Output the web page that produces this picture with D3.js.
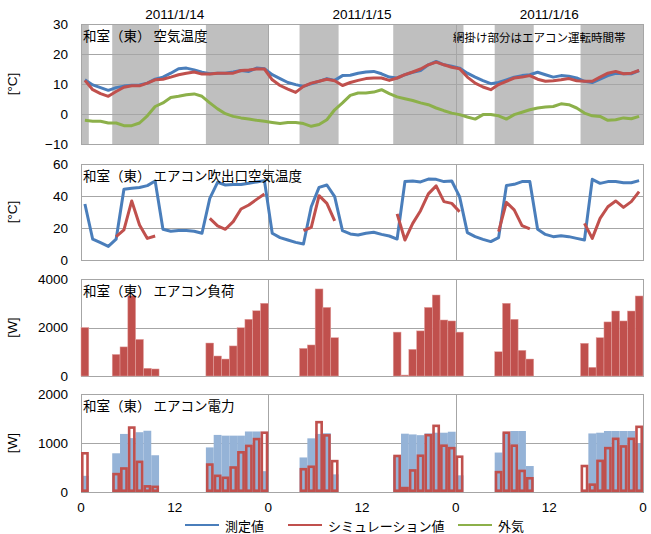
<!DOCTYPE html>
<html>
<head>
<meta charset="utf-8">
<script src="https://cdn.jsdelivr.net/npm/d3@7"></script>
<style>
  body { margin: 0; background: #fff; }
  text { font-family: "Liberation Sans", "Noto Sans CJK JP", sans-serif; fill: #000; }
  .jp { font-family: "Noto Sans CJK JP", sans-serif; }
</style>
</head>
<body>
<script>
// hourly data for 3 days (2011/1/14 - 2011/1/16), index = hour 0..71

const dayLabels = ['2011/1/14', '2011/1/15', '2011/1/16'];
const xTickLabels = ['0', '12', '0', '12', '0', '12', '0'];
const seriesNames = ['測定値', 'シミュレーション値', '外気'];

// air-conditioner running hours (shaded in the top panel) as [start, end]
const acPeriods = [[0, 1], [4, 10], [16, 24], [28, 33], [40, 49], [53, 58], [64, 72]];

// room air temperature [°C]
const airMeasured = [11.4, 9.7, 8.8, 7.9, 8.8, 9.3, 9.6, 9.7, 10.3, 11.6, 12.3, 13.6, 15.1, 15.3, 14.7, 13.9,
  13.4, 13.6, 13.6, 14.0, 14.5, 14.2, 15.3, 15.1, 13.1, 11.8, 10.5, 9.8, 9.2, 10.1, 10.9, 11.8,
  11.2, 12.8, 12.9, 13.6, 14.0, 14.2, 13.4, 12.3, 12.0, 13.1, 13.9, 14.5, 16.4, 17.5, 16.4, 15.9,
  15.3, 13.6, 12.3, 11.1, 10.1, 10.5, 11.4, 12.3, 12.8, 13.1, 13.9, 13.1, 12.3, 12.8, 12.6, 12.0,
  10.9, 10.5, 11.6, 12.8, 13.6, 13.4, 13.4, 14.5];
const airSim = [11.2, 8.1, 6.8, 5.9, 7.5, 8.9, 9.4, 9.4, 10.3, 11.4, 11.6, 12.3, 13.1, 13.6, 14.0, 13.3,
  13.3, 13.6, 13.6, 13.6, 14.5, 14.7, 15.0, 15.0, 11.4, 9.5, 8.3, 7.2, 9.2, 10.3, 10.9, 11.6,
  11.1, 9.5, 10.5, 11.2, 11.8, 12.0, 12.0, 11.2, 12.0, 13.1, 14.0, 15.0, 16.4, 17.3, 16.4, 15.6,
  15.1, 12.3, 10.3, 9.0, 8.1, 9.8, 10.9, 12.0, 12.3, 12.8, 11.6, 10.9, 11.1, 11.4, 11.8, 11.1,
  10.9, 10.9, 12.3, 13.6, 14.2, 13.4, 13.6, 14.5];
const outdoorTemp = [-2.1, -2.4, -2.4, -3.0, -3.0, -3.9, -3.9, -3.0, -0.6, 2.5, 3.7, 5.5, 5.9, 6.4, 6.7, 5.9,
  3.7, 1.7, 0.1, -0.8, -1.3, -1.7, -2.1, -2.4, -2.8, -3.2, -2.8, -2.8, -3.2, -4.1, -3.5, -1.9,
  1.4, 3.7, 6.2, 7.0, 7.0, 7.3, 8.1, 6.8, 5.7, 5.1, 4.5, 3.7, 3.1, 2.0, 1.1, 0.3,
  -0.2, -1.0, -1.7, -0.2, -0.2, -0.6, -1.7, -0.2, 0.6, 1.4, 2.0, 2.3, 2.5, 3.4, 3.1, 2.0,
  0.3, -0.6, -0.8, -2.1, -1.9, -1.3, -1.6, -0.8];

// air-conditioner outlet air temperature [°C]
const outletMeasured = [35, 13, 10.8, 8.5, 13, 44.2, 44.8, 45.3, 46.5, 49.4, 19.2, 18, 18.5, 18.5, 18, 16.7,
  38.5, 48.5, 46.9, 47.2, 47.2, 48, 48.8, 49.6, 16.7, 14, 12.5, 11, 10, 33.3, 45.4, 46.9,
  39.6, 18.3, 16.3, 15.6, 16.7, 17.3, 16, 15, 13.1, 49, 49.4, 48.8, 50.6, 50.4, 49, 49.4,
  39.6, 17.1, 14.6, 12.9, 11.5, 14, 46.5, 47.3, 49, 49, 19.2, 16, 14.6, 15.2, 14.6, 13.5,
  12.5, 50.4, 47.9, 49, 49, 48.3, 48.3, 49.6];
const outletSim = [null, null, null, null, 14.6, 18.8, 36.9, 21.9, 13.5, 15, null, null, null, null, null, null,
  26, 21.3, 19.2, 24, 31.9, 34.4, 37.9, 41.3, null, null, null, null, 18.3, 20.4, 40.2, 35.4,
  24.4, null, null, null, null, null, null, null, 28.8, 12.5, 22.9, 30.8, 41.3, 46.3, 36.5, 35.4,
  30.2, null, null, null, null, 17.7, 36, 31.3, 21.5, 19.4, null, null, null, null, null, null,
  22.9, 13.5, 26, 33.3, 36.9, 32.9, 36.5, 42.7];

// air-conditioner load, simulation [W]
const loadSim = [2000, 0, 0, 0, 890, 1200, 3310, 1510, 320, 290, 0, 0, 0, 0, 0, 0,
  1360, 825, 700, 1240, 1990, 2340, 2690, 3000, 0, 0, 0, 0, 1140, 1280, 3590, 2830,
  1580, 0, 0, 0, 0, 0, 0, 0, 1810, 40, 1100, 1860, 2830, 3340, 2310, 2270,
  1810, 0, 0, 0, 0, 1000, 3000, 2340, 1060, 700, 0, 0, 0, 0, 0, 0,
  1350, 360, 1580, 2230, 2680, 2270, 2680, 3300];

// air-conditioner power [W]
const powerMeasured = [330, 0, 0, 0, 790, 1185, 1100, 1220, 1250, 750, 0, 0, 0, 0, 0, 0,
  910, 1165, 1150, 1150, 1150, 1235, 1235, 425, 0, 0, 0, 0, 705, 1095, 1185, 1200,
  360, 0, 0, 0, 0, 0, 0, 0, 720, 1190, 1175, 1160, 1195, 1210, 1210, 1230,
  340, 0, 0, 0, 0, 805, 1210, 1245, 1245, 530, 0, 0, 0, 0, 0, 0,
  0, 1195, 1210, 1245, 1245, 1245, 1245, 1000];
const powerSim = [790, null, null, null, 365, 480, 1315, 615, 115, 105, null, null, null, null, null, null,
  560, 330, 290, 500, 810, 940, 1080, 1210, null, null, null, null, 465, 515, 1425, 1155,
  630, null, null, null, null, null, null, null, 735, 80, 440, 740, 1160, 1350, 945, 895,
  720, null, null, null, null, 405, 1210, 945, 430, 280, null, null, null, null, null, null,
  530, 150, 635, 895, 1085, 930, 1085, 1330];

const colBlue = '#4a7ebb';
const colRed = '#c0504d';
const colGreen = '#8cb04a';
const colBarBlue = '#95b3d7';
const colShade = '#bfbfbf';
const colGrid = '#a6a6a6';

const width = 651, height = 534;
const svg = d3.select('body').append('svg')
  .attr('width', width)
  .attr('height', height);

// shared time axis: 72 hours across the plot width
const x = d3.scaleLinear().domain([0, 72]).range([81, 643]);
const hours = d3.range(72);

// one panel = plot box, gridlines, tick labels, unit label and title
function makePanel(top, bottom, domain, ticks, unit, title) {
  const y = d3.scaleLinear().domain(domain).range([bottom, top]);
  const g = svg.append('g');
  const back = g.append('g');   // shading goes here
  const grid = g.append('g');
  const marks = g.append('g');

  grid.selectAll('line.h')
    .data(ticks)
    .enter().append('line')
    .attr('x1', x(0)).attr('x2', x(72))
    .attr('y1', d => Math.round(y(d)) + 0.5).attr('y2', d => Math.round(y(d)) + 0.5)
    .style('stroke', colGrid);

  // day boundaries
  grid.selectAll('line.v')
    .data([24, 48])
    .enter().append('line')
    .attr('x1', d => Math.round(x(d)) + 0.5).attr('x2', d => Math.round(x(d)) + 0.5)
    .attr('y1', top).attr('y2', bottom)
    .style('stroke', colGrid);

  grid.append('rect')
    .attr('x', x(0) + 0.5).attr('y', top + 0.5)
    .attr('width', x(72) - x(0)).attr('height', bottom - top)
    .style('fill', 'none').style('stroke', colGrid);

  // y tick labels (no thousands separator)
  const axis = d3.axisLeft(y).tickValues(ticks).tickSize(0).tickPadding(13).tickFormat(d3.format('d'));
  const ax = g.append('g').attr('transform', `translate(${x(0)},0)`).call(axis);
  ax.select('.domain').remove();
  ax.selectAll('text').style('font-size', '13.5px').style('font-family', '"Liberation Sans", sans-serif');

  g.append('text')
    .attr('transform', `translate(17,${(top + bottom) / 2}) rotate(-90)`)
    .attr('text-anchor', 'middle')
    .style('font-size', '13.5px')
    .text(unit);

  g.append('text')
    .attr('class', 'jp')
    .attr('x', 83).attr('y', top + 17)
    .style('font-size', '13.5px')
    .text(title);

  return { y, back, marks };
}

const p1 = makePanel(24, 144, [-10, 30], [-10, 0, 10, 20, 30], '[°C]', '和室（東） 空気温度');
const p2 = makePanel(164, 260, [0, 60], [0, 20, 40, 60], '[°C]', '和室（東） エアコン吹出口空気温度');
const p3 = makePanel(279, 376, [0, 4000], [0, 2000, 4000], '[W]', '和室（東） エアコン負荷');
const p4 = makePanel(394, 492, [0, 2000], [0, 1000, 2000], '[W]', '和室（東） エアコン電力');

// shade the running hours in the top panel
p1.back.selectAll('rect')
  .data(acPeriods)
  .enter().append('rect')
  .attr('x', d => x(d[0]))
  .attr('width', d => x(d[1]) - x(d[0]))
  .attr('y', p1.y(30))
  .attr('height', p1.y(-10) - p1.y(30))
  .style('fill', colShade);

p1.back.append('text')
  .attr('class', 'jp')
  .attr('x', 453).attr('y', 42)
  .style('font-size', '11.5px')
  .text('網掛け部分はエアコン運転時間帯');

// lines are drawn at the middle of each hour
function drawLine(panel, values, color) {
  const line = d3.line()
    .defined(d => values[d] != null)
    .x(d => x(d + 0.5))
    .y(d => panel.y(values[d]));
  panel.marks.append('path')
    .datum(hours)
    .attr('d', line)
    .style('fill', 'none')
    .style('stroke', color)
    .style('stroke-width', 3)
    .style('stroke-linejoin', 'round');
}

drawLine(p1, outdoorTemp, colGreen);
drawLine(p1, airMeasured, colBlue);
drawLine(p1, airSim, colRed);
drawLine(p2, outletMeasured, colBlue);
drawLine(p2, outletSim, colRed);

// load bars
p3.marks.selectAll('rect')
  .data(hours.filter(h => loadSim[h] > 0))
  .enter().append('rect')
  .attr('x', h => x(h))
  .attr('width', h => x(h + 1) - x(h))
  .attr('y', h => p3.y(loadSim[h]))
  .attr('height', h => p3.y(0) - p3.y(loadSim[h]))
  .style('fill', colRed)
  .style('stroke', '#e3a3a1')
  .style('stroke-width', 0.5);

// power: measured filled, simulation as outlined bars on top
p4.marks.selectAll('rect.meas')
  .data(hours.filter(h => powerMeasured[h] > 0))
  .enter().append('rect')
  .attr('x', h => x(h))
  .attr('width', h => x(h + 1) - x(h))
  .attr('y', h => p4.y(powerMeasured[h]))
  .attr('height', h => p4.y(0) - p4.y(powerMeasured[h]))
  .style('fill', colBarBlue);

p4.marks.selectAll('rect.sim')
  .data(hours.filter(h => powerSim[h] != null))
  .enter().append('rect')
  .attr('x', h => x(h) + 1.3)
  .attr('width', h => x(h + 1) - x(h) - 2.6)
  .attr('y', h => p4.y(powerSim[h]))
  .attr('height', h => p4.y(0) - p4.y(powerSim[h]) - 1.3)
  .style('fill', 'none')
  .style('stroke', colRed)
  .style('stroke-width', 2.6);

// bottom hour labels
svg.selectAll('text.xt')
  .data(xTickLabels)
  .enter().append('text')
  .attr('x', (d, i) => x(i * 12))
  .attr('y', 512)
  .attr('text-anchor', 'middle')
  .style('font-size', '13.5px')
  .text(d => d);

// date labels on top
svg.selectAll('text.day')
  .data(dayLabels)
  .enter().append('text')
  .attr('x', (d, i) => x(i * 24 + 12))
  .attr('y', 19)
  .attr('text-anchor', 'middle')
  .style('font-size', '13.5px')
  .text(d => d);

// legend
const legendItems = [
  { name: seriesNames[0], color: colBlue, x: 185 },
  { name: seriesNames[1], color: colRed, x: 288 },
  { name: seriesNames[2], color: colGreen, x: 458 }
];
const legend = svg.append('g');
legendItems.forEach(function(d) {
  legend.append('line')
    .attr('x1', d.x).attr('x2', d.x + 34)
    .attr('y1', 525).attr('y2', 525)
    .style('stroke', d.color)
    .style('stroke-width', 2);
  legend.append('text')
    .attr('class', 'jp')
    .attr('x', d.x + 40).attr('y', 525)
    .attr('dominant-baseline', 'central')
    .style('font-size', '13px')
    .text(d.name);
});
</script>
</body>
</html>
